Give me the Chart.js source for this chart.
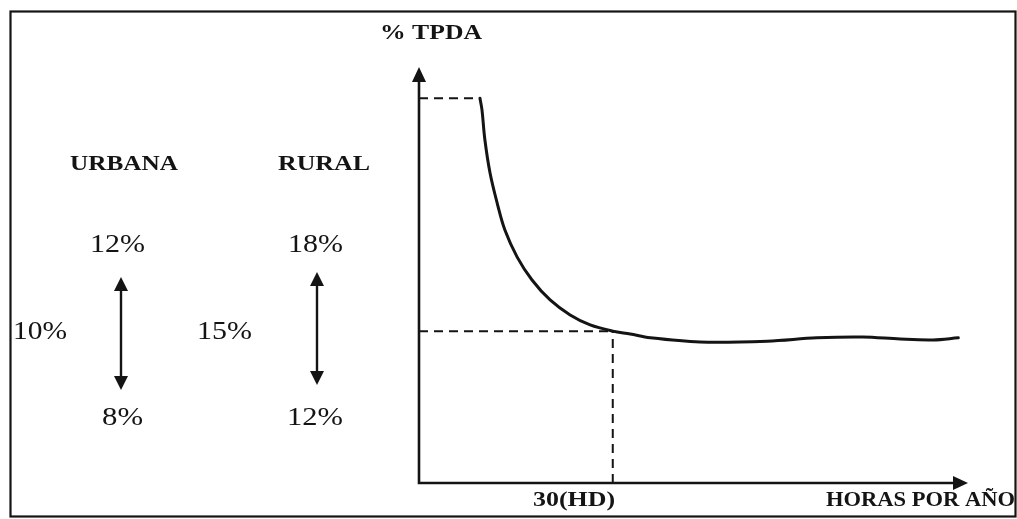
<!DOCTYPE html>
<html>
<head>
<meta charset="utf-8">
<script src="https://cdn.jsdelivr.net/npm/chart.js@4"></script>
<style>
  html, body { margin: 0; padding: 0; background: #fff; }
  #chart { display: block; }
</style>
</head>
<body>
<canvas id="chart" width="1017" height="519"></canvas>
<script>
// curve: % TPDA against hours per year (arbitrary units)
var horas = [9.44, 9.75, 10.2, 11.0, 12.1, 13.3, 15.2, 17.5, 20.3, 23.4, 26.5, 30.0, 32.7, 35.8, 43.5, 53.9, 61.6, 68.7, 74.5, 79.6, 83.5];
var tpda  = [92.5, 89.7, 82.5, 74.5, 67.3, 60.8, 54.3, 48.8, 44.0, 40.4, 38.0, 36.5, 35.8, 34.9, 33.9, 34.1, 34.9, 35.1, 34.6, 34.4, 34.9];

// reference lines
var horaDiseno = 30;
var tpdaMax = 92.5;
var tpdaDiseno = 36.5;

// side notes
var zonas = ['URBANA', 'RURAL'];
var factorAlto = ['12%', '18%'];
var factorMedio = ['10%', '15%'];
var factorBajo = ['8%', '12%'];

var ejeX = { min: 0, max: 85 };
var ejeY = { min: 0, max: 100 };

var INK = '#141414';
var SERIF = '"Liberation Serif", serif';

function pts(xs, ys) {
    return xs.map(function (x, i) { return { x: x, y: ys[i] }; });
}

// text stretched to a given width (the source picture is wider than tall)
function fitText(ctx, txt, x, y, w, font) {
    ctx.save();
    ctx.font = font;
    var m = ctx.measureText(txt).width;
    ctx.translate(x, y);
    ctx.scale(w / m, 1);
    ctx.textAlign = 'left';
    ctx.textBaseline = 'alphabetic';
    ctx.fillStyle = INK;
    ctx.fillText(txt, 0, 0);
    ctx.restore();
}

function arrowHead(ctx, x, y, dir, len, half) {
    ctx.beginPath();
    if (dir === 'up') {
        ctx.moveTo(x, y); ctx.lineTo(x - half, y + len); ctx.lineTo(x + half, y + len);
    } else if (dir === 'down') {
        ctx.moveTo(x, y); ctx.lineTo(x - half, y - len); ctx.lineTo(x + half, y - len);
    } else {
        ctx.moveTo(x, y); ctx.lineTo(x - len, y - half); ctx.lineTo(x - len, y + half);
    }
    ctx.closePath();
    ctx.fill();
}

function doubleArrow(ctx, x, y1, y2) {
    ctx.beginPath();
    ctx.moveTo(x, y1 + 10);
    ctx.lineTo(x, y2 - 10);
    ctx.stroke();
    arrowHead(ctx, x, y1, 'up', 14, 7);
    arrowHead(ctx, x, y2, 'down', 14, 7);
}

var framePlugin = {
    id: 'frame',
    afterDraw: function (chart) {
        var ctx = chart.ctx;
        var sx = chart.scales.x, sy = chart.scales.y;
        var x0 = sx.getPixelForValue(ejeX.min);
        var x1 = sx.getPixelForValue(ejeX.max);
        var y0 = sy.getPixelForValue(ejeY.min);
        var y1 = sy.getPixelForValue(ejeY.max);

        ctx.save();
        ctx.strokeStyle = INK;
        ctx.fillStyle = INK;

        // outer box
        ctx.lineWidth = 2.2;
        ctx.strokeRect(10.5, 11.5, 1005, 505);

        // axes with arrows
        ctx.lineWidth = 2.6;
        ctx.beginPath();
        ctx.moveTo(x0, y1 + 10);
        ctx.lineTo(x0, y0);
        ctx.lineTo(x1 - 10, y0);
        ctx.stroke();
        arrowHead(ctx, x0, y1, 'up', 15, 7);
        arrowHead(ctx, x1, y0, 'right', 15, 7);

        // axis texts
        fitText(ctx, '% TPDA', 380, 39, 102, 'bold 21px ' + SERIF);
        fitText(ctx, '30(HD)', 533, 506, 82, 'bold 21px ' + SERIF);
        fitText(ctx, 'HORAS POR AÑO', 826, 506, 189, 'bold 21px ' + SERIF);

        // side notes: urbana / rural ranges
        fitText(ctx, zonas[0], 70, 170, 108, 'bold 21px ' + SERIF);
        fitText(ctx, zonas[1], 278, 170, 92, 'bold 21px ' + SERIF);
        fitText(ctx, factorAlto[0], 90, 252, 55, '25px ' + SERIF);
        fitText(ctx, factorAlto[1], 288, 252, 55, '25px ' + SERIF);
        fitText(ctx, factorMedio[0], 13, 339, 54, '25px ' + SERIF);
        fitText(ctx, factorMedio[1], 197, 339, 55, '25px ' + SERIF);
        fitText(ctx, factorBajo[0], 102, 425, 41, '25px ' + SERIF);
        fitText(ctx, factorBajo[1], 287, 425, 56, '25px ' + SERIF);

        ctx.lineWidth = 2.4;
        doubleArrow(ctx, 121, 277, 390);
        doubleArrow(ctx, 317, 272, 385);
        ctx.restore();
    }
};

var dashed = {
    borderColor: INK,
    borderWidth: 2,
    borderDash: [9, 6],
    pointRadius: 0,
    fill: false,
    tension: 0
};

function build() {
    var ctx = document.getElementById('chart').getContext('2d');
    var grafico = new Chart(ctx, {
        type: 'line',
        data: {
            datasets: [
                Object.assign({ label: 'max', data: pts([ejeX.min, horas[0]], [tpdaMax, tpdaMax]) }, dashed),
                Object.assign({ label: 'diseno', data: pts([ejeX.min, horaDiseno], [tpdaDiseno, tpdaDiseno]) }, dashed),
                Object.assign({ label: 'hd', data: pts([horaDiseno, horaDiseno], [ejeY.min, tpdaDiseno]) }, dashed),
                {
                    label: '% TPDA',
                    data: pts(horas, tpda),
                    borderColor: INK,
                    borderWidth: 3,
                    borderCapStyle: 'round',
                    borderJoinStyle: 'round',
                    pointRadius: 0,
                    fill: false,
                    tension: 0.35
                }
            ]
        },
        options: {
            responsive: false,
            animation: false,
            devicePixelRatio: 1,
            layout: { padding: { left: 419, right: 49, top: 67, bottom: 36 } },
            plugins: { legend: { display: false }, tooltip: { enabled: false } },
            scales: {
                x: { type: 'linear', min: ejeX.min, max: ejeX.max, display: false },
                y: { type: 'linear', min: ejeY.min, max: ejeY.max, display: false }
            }
        },
        plugins: [framePlugin]
    });
    return grafico;
}

// make sure the serif face is ready before the canvas draws text
Promise.all([
    document.fonts.load('bold 21px "Liberation Serif"'),
    document.fonts.load('25px "Liberation Serif"')
]).then(build, build);
</script>
</body>
</html>
